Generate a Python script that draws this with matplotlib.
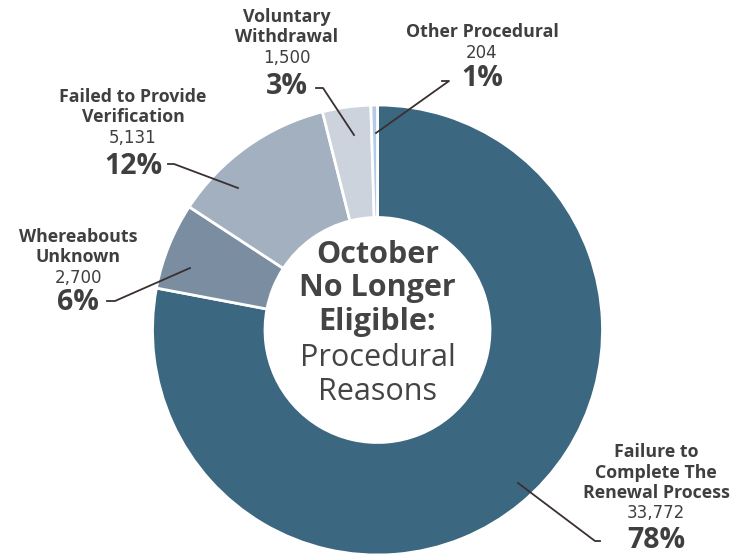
import matplotlib.pyplot as plt

# data
reasons = ["Failure to\nComplete The\nRenewal Process", "Whereabouts\nUnknown",
           "Failed to Provide\nVerification", "Voluntary\nWithdrawal", "Other Procedural"]
counts = [33772, 2700, 5131, 1500, 204]
pcts = ["78%", "6%", "12%", "3%", "1%"]
colors = ["#3b6780", "#7a8da1", "#a3b0bf", "#cdd3dc", "#b3cbe6"]

W, H = 731, 554
TXT = "#3f3f3f"
FONT = "Open Sans"

fig = plt.figure(figsize=(W / 100, H / 100), dpi=100)
ax = fig.add_axes([0, 0, 1, 1])

def py(y):
    # image pixel row -> data y
    return H - y

cx, cy, R = 377.5, 330, 225
ax.pie(counts, colors=colors, startangle=90, counterclock=False,
       center=(cx, py(cy)), radius=R, frame=True,
       wedgeprops=dict(width=R * 0.5, edgecolor="white", linewidth=2))
ax.set_xlim(0, W)
ax.set_ylim(0, H)
ax.axis("off")

# label blocks: (text x, first line y, pct y, leader line points)
layout = [
    (656, 452, 540, [(600, 541), (595, 541), (518, 483)]),
    (78, 237, 303, [(107, 301), (115, 301), (190, 268)]),
    (133, 97, 166, [(168, 164), (174, 164), (238, 188)]),
    (287, 17, 87, [(316, 88), (323, 88), (354, 135)]),
    (482, 32, 78, [(442, 81), (449, 81), (376, 133)]),
]

for name, n, p, (x, y0, yp, pts) in zip(reasons, counts, pcts, layout):
    lines = name.split("\n")
    for i, s in enumerate(lines):
        ax.text(x, py(y0 + i * 20.5), s, ha="center", va="center", fontsize=12.8,
                fontweight="bold", color=TXT, family=FONT)
    ax.text(x, py(y0 + len(lines) * 20.5), f"{n:,}", ha="center", va="center",
            fontsize=12, color=TXT, family="DejaVu Sans")
    ax.text(x, py(yp), p, ha="center", va="center", fontsize=20.5,
            fontweight="bold", color=TXT, family=FONT)
    ax.plot([q[0] for q in pts], [py(q[1]) for q in pts], color="#3a3030", lw=1.3)

centre = [("October", "bold", 255), ("No Longer", "bold", 288), ("Eligible:", "bold", 322),
          ("Procedural", "normal", 358), ("Reasons", "normal", 392)]
for s, w, y in centre:
    ax.text(cx, py(y), s, ha="center", va="center", fontsize=22, fontweight=w,
            color="#444444", family=FONT)

fig.savefig("out.png", dpi=100, facecolor="white")
